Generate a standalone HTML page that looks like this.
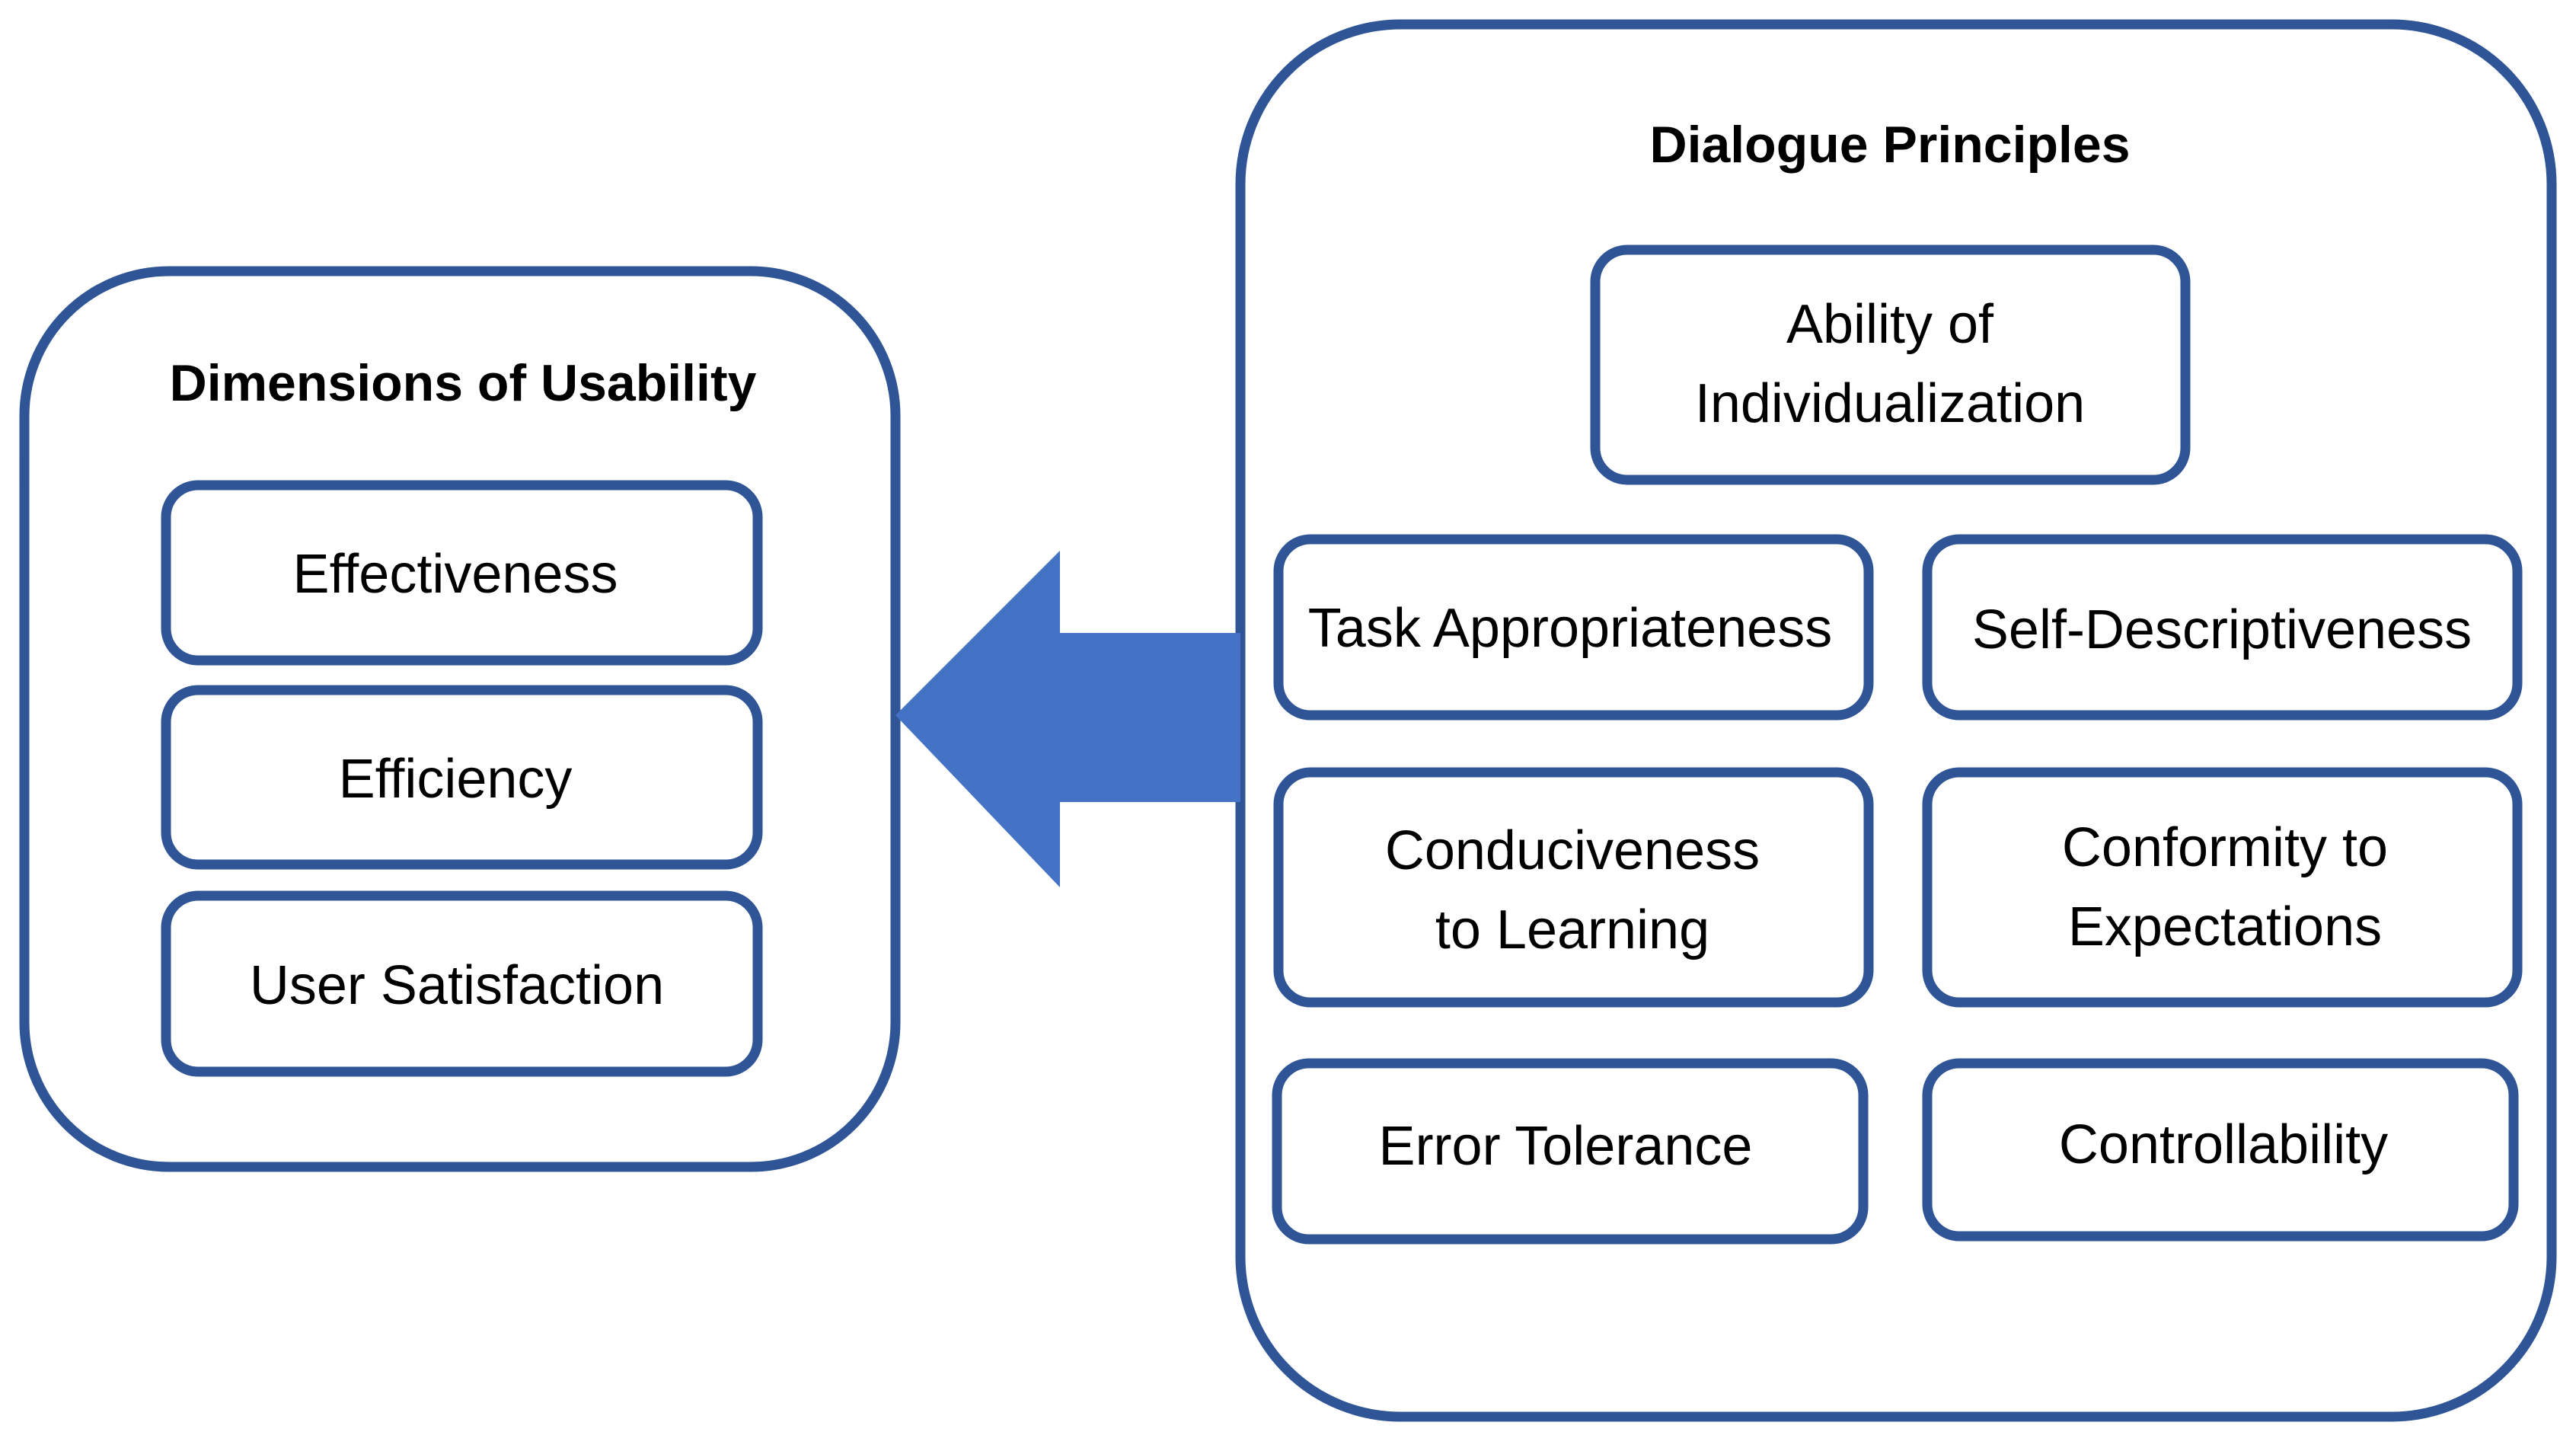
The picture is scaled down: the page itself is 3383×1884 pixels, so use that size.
<!DOCTYPE html>
<html><head><meta charset="utf-8"><style>html,body{margin:0;padding:0;background:#fff}svg{display:block}</style></head>
<body>
<svg width="3383" height="1884" viewBox="0 0 3383 1884" xmlns="http://www.w3.org/2000/svg">
<g fill="none" stroke="#2f5597" stroke-width="13">
<rect x="32" y="356" width="1144" height="1176" rx="190"/>
<rect x="1629" y="32" width="1722" height="1828" rx="210"/>
<rect x="218" y="637" width="777" height="230" rx="42"/>
<rect x="218" y="906" width="777" height="229" rx="42"/>
<rect x="218" y="1176" width="777" height="231" rx="42"/>
<rect x="2095" y="328" width="775" height="302" rx="42"/>
<rect x="1679" y="708" width="775" height="231" rx="42"/>
<rect x="2531" y="708" width="775" height="231" rx="42"/>
<rect x="1679" y="1014" width="775" height="302" rx="42"/>
<rect x="2531" y="1014" width="775" height="302" rx="42"/>
<rect x="1677" y="1396" width="770" height="231" rx="42"/>
<rect x="2531" y="1396" width="770" height="227" rx="42"/>
</g>
<polygon points="1176,939 1392,723 1392,831 1629,831 1629,1053 1392,1053 1392,1165" fill="#4472c4"/>
<g font-family="Liberation Sans, sans-serif" font-size="72" fill="#000" text-anchor="middle">
<text x="608" y="526" font-weight="bold" font-size="68">Dimensions of Usability</text>
<text x="2482" y="213" font-weight="bold" font-size="68">Dialogue Principles</text>
<text x="598" y="778">Effectiveness</text>
<text x="598" y="1047">Efficiency</text>
<text x="600" y="1318">User Satisfaction</text>
<text x="2482" y="450">Ability of</text>
<text x="2482" y="554">Individualization</text>
<text x="2062" y="849">Task Appropriateness</text>
<text x="2918" y="851">Self-Descriptiveness</text>
<text x="2065" y="1141">Conduciveness</text>
<text x="2065" y="1245">to Learning</text>
<text x="2922" y="1137">Conformity to</text>
<text x="2922" y="1241">Expectations</text>
<text x="2056" y="1529">Error Tolerance</text>
<text x="2920" y="1527">Controllability</text>
</g>
</svg>
</body></html>
